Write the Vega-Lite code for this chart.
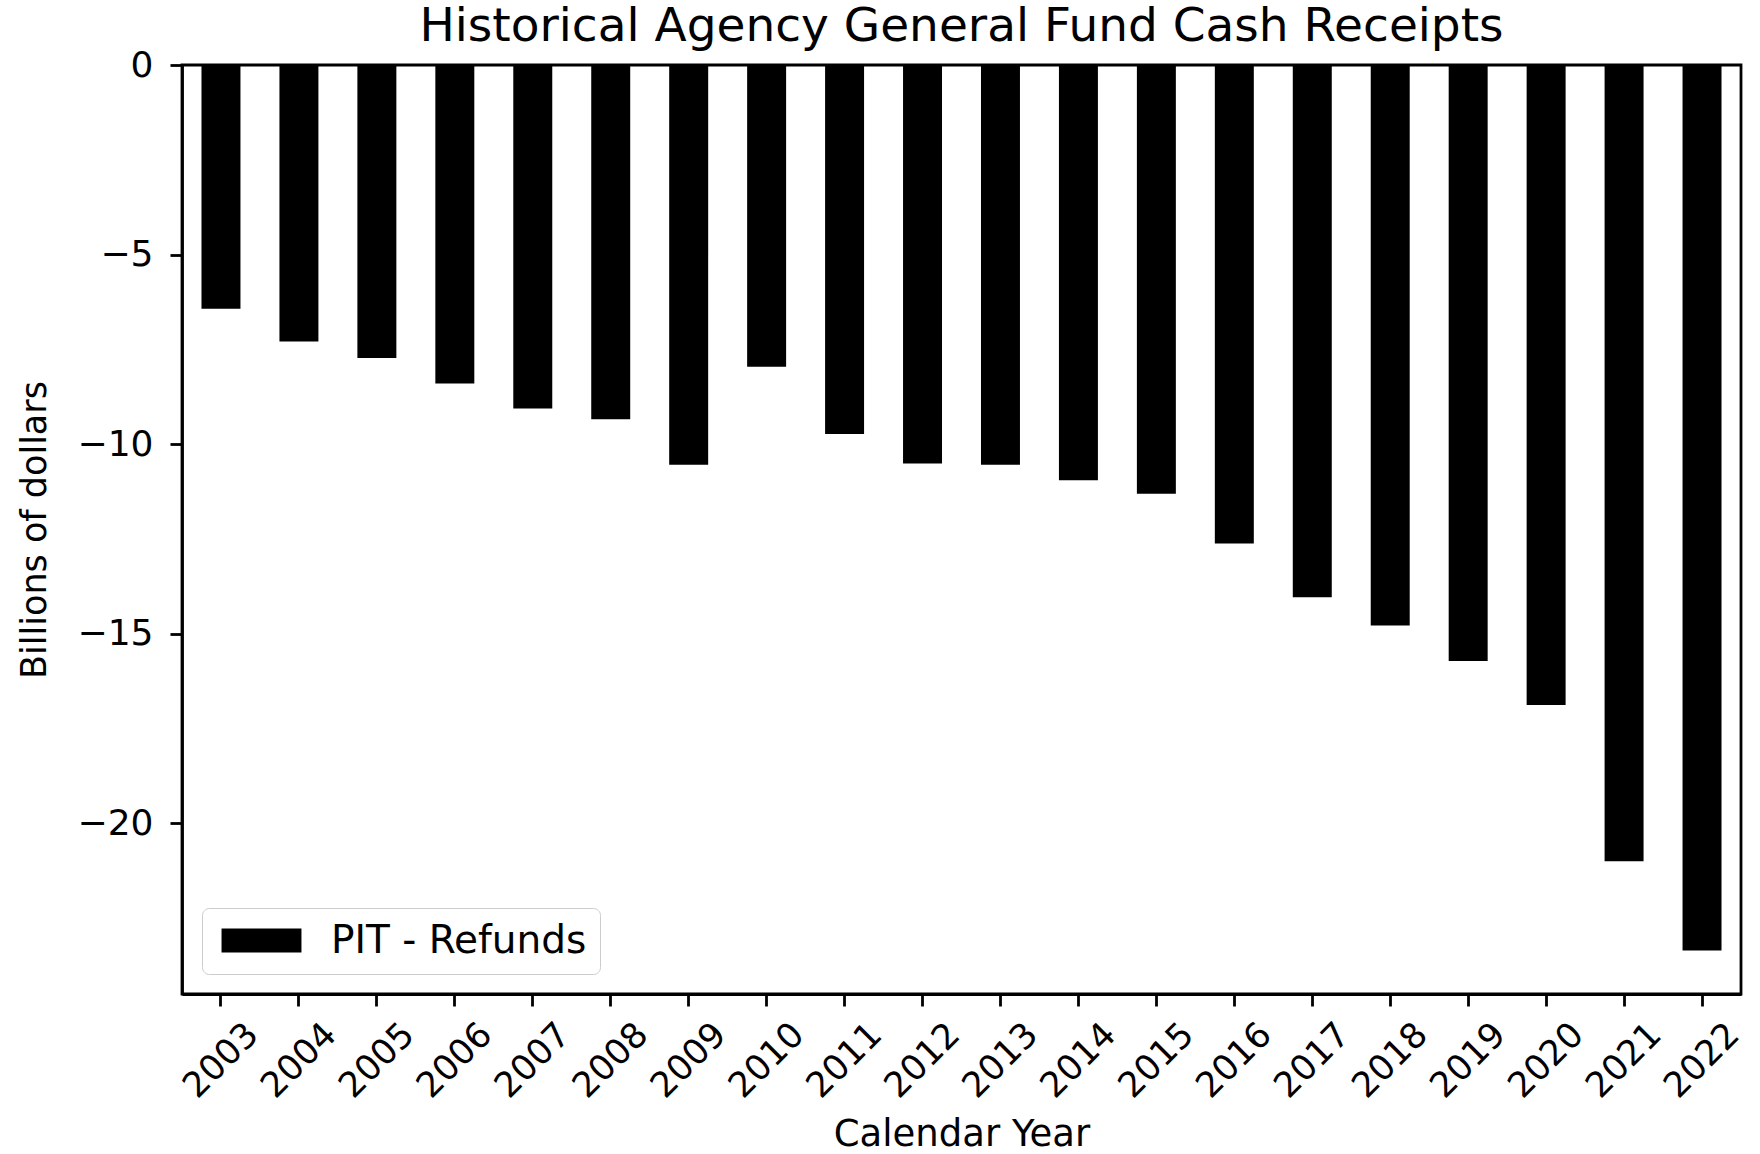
{
  "$schema": "https://vega.github.io/schema/vega-lite/v6.json",
  "width": 1559,
  "height": 929,
  "autosize": {"type": "none"},
  "padding": {"left": 182, "top": 65, "right": 19, "bottom": 160},
  "background": "white",
  "title": {
    "text": "Historical Agency General Fund Cash Receipts",
    "fontSize": 47,
    "font": "DejaVu Sans",
    "fontWeight": "normal",
    "color": "black",
    "anchor": "middle",
    "baseline": "alphabetic",
    "offset": -41
  },
  "data": {
    "values": [
      {"year": "2003", "value": -6.43, "series": "PIT - Refunds"},
      {"year": "2004", "value": -7.29, "series": "PIT - Refunds"},
      {"year": "2005", "value": -7.73, "series": "PIT - Refunds"},
      {"year": "2006", "value": -8.40, "series": "PIT - Refunds"},
      {"year": "2007", "value": -9.06, "series": "PIT - Refunds"},
      {"year": "2008", "value": -9.34, "series": "PIT - Refunds"},
      {"year": "2009", "value": -10.54, "series": "PIT - Refunds"},
      {"year": "2010", "value": -7.96, "series": "PIT - Refunds"},
      {"year": "2011", "value": -9.73, "series": "PIT - Refunds"},
      {"year": "2012", "value": -10.51, "series": "PIT - Refunds"},
      {"year": "2013", "value": -10.54, "series": "PIT - Refunds"},
      {"year": "2014", "value": -10.95, "series": "PIT - Refunds"},
      {"year": "2015", "value": -11.31, "series": "PIT - Refunds"},
      {"year": "2016", "value": -12.62, "series": "PIT - Refunds"},
      {"year": "2017", "value": -14.04, "series": "PIT - Refunds"},
      {"year": "2018", "value": -14.78, "series": "PIT - Refunds"},
      {"year": "2019", "value": -15.72, "series": "PIT - Refunds"},
      {"year": "2020", "value": -16.88, "series": "PIT - Refunds"},
      {"year": "2021", "value": -21.0, "series": "PIT - Refunds"},
      {"year": "2022", "value": -23.35, "series": "PIT - Refunds"}
    ]
  },
  "mark": {"type": "bar"},
  "encoding": {
    "x": {
      "field": "year",
      "type": "ordinal",
      "sort": null,
      "scale": {"paddingInner": 0.5, "paddingOuter": 0.25},
      "axis": {
        "title": "Calendar Year",
        "titleFontSize": 37,
        "titleFont": "DejaVu Sans",
        "titleFontWeight": "normal",
        "titleColor": "black",
        "titleY": 151,
        "titleBaseline": "alphabetic",
        "labelAngle": -45,
        "labelAlign": "center",
        "labelBaseline": "middle",
        "labelFont": "DejaVu Sans",
        "labelFontSize": 35,
        "labelColor": "black",
        "labelPadding": 54,
        "labelOverlap": false,
        "labelFlush": false,
        "tickSize": 12,
        "tickWidth": 2.8,
        "tickColor": "black",
        "domainColor": "black",
        "domainWidth": 2.8,
        "grid": false
      }
    },
    "y": {
      "field": "value",
      "type": "quantitative",
      "scale": {"domain": [-24.5, 0], "nice": false, "zero": false},
      "axis": {
        "title": "Billions of dollars",
        "titleFontSize": 35,
        "titleFont": "DejaVu Sans",
        "titleFontWeight": "normal",
        "titleColor": "black",
        "titlePadding": 25,
        "values": [0, -5, -10, -15, -20],
        "format": "d",
        "labelExpr": "replace(datum.label, '-', '\u2212')",
        "labelFont": "DejaVu Sans",
        "labelFontSize": 36,
        "labelColor": "black",
        "labelPadding": 17,
        "tickSize": 12,
        "tickWidth": 2.8,
        "tickColor": "black",
        "domainColor": "black",
        "domainWidth": 2.8,
        "grid": false
      }
    },
    "color": {
      "field": "series",
      "type": "nominal",
      "scale": {"range": ["black"]},
      "legend": {
        "title": null,
        "orient": "bottom-left",
        "offset": 20,
        "labelFont": "DejaVu Sans",
        "labelFontSize": 39,
        "labelColor": "black",
        "labelLimit": 600,
        "symbolType": "M-3.33,-1H3.33V1H-3.33Z",
        "symbolSize": 576,
        "symbolStrokeWidth": 0,
        "symbolOffset": 27,
        "labelOffset": 50,
        "padding": 13,
        "fillColor": "rgba(255,255,255,0.8)",
        "strokeColor": "#cccccc",
        "cornerRadius": 7
      }
    }
  },
  "config": {
    "view": {"stroke": "black", "strokeWidth": 2.8},
    "font": "DejaVu Sans"
  }
}
